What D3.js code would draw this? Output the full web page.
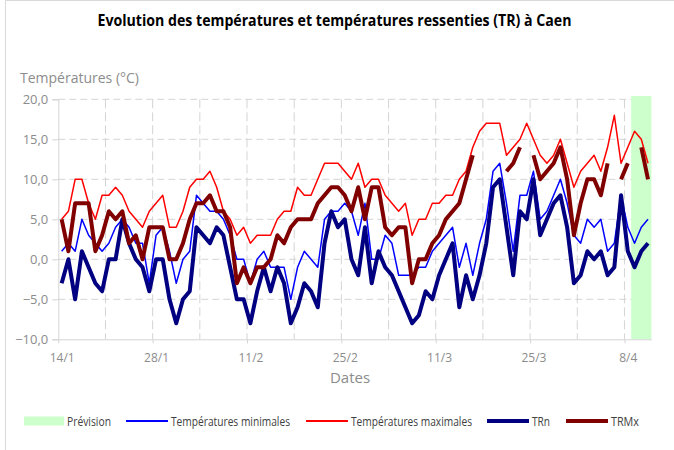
<!DOCTYPE html>
<html lang="fr">
<head>
  <meta charset="utf-8">
  <script src="https://cdn.jsdelivr.net/npm/d3@7"></script>
  <style>
    body{margin:0;background:#fff;}
    text{font-family:"Open Sans","Liberation Sans",sans-serif;}
  </style>
</head>
<body>
  <div id="chart"></div>
  <script type="text/javascript">
    // donnees journalieres du 14/1 au 11/4 (2013)
    var startDate=new Date(Date.UTC(2013,0,14));
    var nbDays=88;
    var forecastFrom=85; // 9/4 -> 11/4 = prevision

    var tMin=[1,2,1,5,3,2,1,2,4,5, 4,2,2,-3,3,4,1,-3,0,1, 8,7,6,6,5,3,0,0,-3,0,
              1,-1,-1,-1,-5,-1,1,0,-1,5, 6,6,7,6,3,7,0,0,3,2, -2,-2,-2,-1,-1,1,2,3,4,-1,
              2,-2,2,5,11,12,7,1,8,8, 11,5,6,8,10,7,3,2,5,4, 5,1,2,8,4,2,4,5];
    var tMax=[5,6,10,10,7,5,8,8,9,8, 6,5,4,6,7,8,4,4,6,9, 10,10,11,9,6,5,3,4,2,3,
              3,3,5,6,6,9,8,8,10,12, 12,12,11,10,12,9,10,10,8,7, 6,7,3,5,5,7,7,8,8,10,
              11,14,16,17,17,17,13,14,15,17, 15,13,12,13,15,12,9,11,12,13, 11,14,18,12,14,16,15,12];
    var trn=[-3,0,-5,1,-1,-3,-4,0,0,5, 2,0,-1,-4,0,0,-5,-8,-5,-4, 4,3,2,4,3,-1,-5,-5,-8,-4,
             -1,-4,-1,-3,-8,-6,-3,-4,-6,2, 6,4,5,0,-2,4,-3,1,-1,-2, -4,-6,-8,-7,-4,-5,-2,0,2,-6,
             -2,-5,-2,2,9,10,4,-2,6,5, 10,3,5,7,8,4,-3,-2,1,0, 1,-2,-1,8,1,-1,1,2];
    var trmx=[5,1,7,7,7,1,3,6,5,6, 2,3,0,4,4,4,0,0,2,5, 7,7,8,6,6,4,-3,-1,-3,-1,
              -1,0,3,2,4,5,5,5,7,8, 9,9,8,6,9,5,9,9,4,3, 4,4,-3,0,0,2,3,5,6,7,
              10,13,null,null,null,null,11,12,14,null, 13,10,11,12,14,10,3,7,10,10, 8,12,null,10,12,null,14,10];
    var yTicks=[-10,-5,0,5,10,15,20];

    var series=[
      {name:"Températures minimales",values:tMin,color:"#0000ff",width:1.5},
      {name:"Températures maximales",values:tMax,color:"#ff0000",width:1.5},
      {name:"TRn",values:trn,color:"#000080",width:4},
      {name:"TRMx",values:trmx,color:"#800000",width:4}
    ];

    var width=674, height=450;
    var gridColor="#d4d4d4", labelColor="#8c8c8c";

    var endDate=d3.utcDay.offset(startDate,nbDays);
    var days=d3.utcDays(startDate,endDate);

    var x=d3.scaleUtc().domain([startDate,endDate]).range([58.3,651.4]);
    var y=d3.scaleLinear().domain([-10,20]).range([339.3,99.3]);
    var dayW=x(d3.utcDay.offset(startDate,1))-x(startDate);
    function cx(d){return x(d)+dayW/2;}

    var svg=d3.select("#chart")
      .append("svg")
      .attr("width",width)
      .attr("height",height);

    // cadre
    svg.append("path")
      .attr("d","M5.5,"+height+"V0.5H"+width)
      .attr("fill","none")
      .attr("stroke","#d9d9d9");

    //Title
    svg.append("text")
      .attr("x",334.5)
      .attr("y",26)
      .attr("text-anchor","middle")
      .attr("textLength",474)
      .attr("lengthAdjust","spacingAndGlyphs")
      .style("font-size","16px")
      .style("font-weight","bold")
      .attr("fill","#000")
      .text("Evolution des températures et températures ressenties (TR) à Caen");

    svg.append("text")
      .attr("x",20)
      .attr("y",83)
      .attr("fill",labelColor)
      .style("font-size","14px")
      .text("Températures (°C)");

    // grilles
    svg.append("g")
      .selectAll("line")
      .data(yTicks.filter(function(d){return d>-10;}))
      .enter()
      .append("line")
      .attr("x1",x.range()[0]).attr("x2",x.range()[1])
      .attr("y1",function(d){return y(d);}).attr("y2",function(d){return y(d);})
      .attr("stroke",gridColor)
      .attr("stroke-dasharray","7,4");

    var weekDays=d3.utcDay.range(d3.utcDay.offset(startDate,7),endDate,7);
    svg.append("g")
      .selectAll("line")
      .data(weekDays)
      .enter()
      .append("line")
      .attr("x1",function(d){return x(d);}).attr("x2",function(d){return x(d);})
      .attr("y1",y(20)).attr("y2",y(-10))
      .attr("stroke",gridColor)
      .attr("stroke-dasharray","9,4");

    // zone de prevision
    svg.append("rect")
      .attr("x",x(days[forecastFrom]))
      .attr("y",96)
      .attr("width",x(endDate)-x(days[forecastFrom]))
      .attr("height",y(-10)-96)
      .attr("fill","#ccffcc");

    // axes
    var yAxis=d3.axisLeft(y)
      .tickValues(yTicks)
      .tickSize(6)
      .tickPadding(4)
      .tickFormat(function(d){return d3.format(".1f")(d).replace(".",",");});

    var gy=svg.append("g")
      .attr("transform","translate("+x.range()[0]+",0)")
      .call(yAxis);
    gy.select(".domain").attr("stroke",gridColor);
    gy.selectAll(".tick line").attr("stroke",gridColor);
    gy.selectAll(".tick text")
      .attr("fill",labelColor)
      .style("font-size","13px")
      .style("font-family","'Open Sans',sans-serif");

    var labelDays=d3.utcDay.range(startDate,endDate,14);
    var xAxis=d3.axisBottom(x)
      .tickValues(labelDays)
      .tickSize(4)
      .tickSizeOuter(0)
      .tickFormat(d3.utcFormat("%-d/%-m"));

    var gx=svg.append("g")
      .attr("transform","translate(0,"+y(-10)+")")
      .call(xAxis);
    gx.select(".domain").attr("stroke",gridColor);
    gx.selectAll(".tick line").attr("stroke",gridColor);
    gx.selectAll(".tick text")
      .attr("fill",labelColor)
      .attr("x",dayW/2)
      .attr("dy","0.71em")
      .attr("y",14)
      .style("font-size","12px")
      .style("font-family","'Open Sans',sans-serif");

    svg.append("text")
      .attr("x",350)
      .attr("y",383)
      .attr("text-anchor","middle")
      .attr("fill",labelColor)
      .style("font-size","15px")
      .text("Dates");

    // courbes
    var line=d3.line()
      .defined(function(d){return d.v!=null;})
      .x(function(d){return cx(d.date);})
      .y(function(d){return y(d.v);});

    svg.append("g")
      .selectAll("path")
      .data(series)
      .enter()
      .append("path")
      .attr("fill","none")
      .attr("stroke",function(d){return d.color;})
      .attr("stroke-width",function(d){return d.width;})
      .attr("stroke-linejoin","round")
      .attr("d",function(s){
        return line(days.map(function(dt,i){return {date:dt,v:s.values[i]};}));
      });

    // legende
    var legend=svg.append("g").attr("transform","translate(0,421)");
    legend.append("rect")
      .attr("x",24).attr("y",-4.5)
      .attr("width",40).attr("height",9)
      .attr("fill","#ccffcc");
    legend.append("text")
      .attr("x",67).attr("y",4.5)
      .attr("fill","#404040")
      .attr("textLength",44)
      .attr("lengthAdjust","spacingAndGlyphs")
      .style("font-size","12px")
      .text("Prévision");

    var legendX=[126,306,487,566];
    var legendLen=[119,121,18,28];
    legend.selectAll("g.item")
      .data(series)
      .enter()
      .append("g")
      .attr("class","item")
      .attr("transform",function(d,i){return "translate("+legendX[i]+",0)";})
      .each(function(d,i){
        var g=d3.select(this);
        g.append("line")
          .attr("x1",0).attr("x2",42)
          .attr("stroke",d.color)
          .attr("stroke-width",d.width==4?4:2);
        g.append("text")
          .attr("x",45).attr("y",4.5)
          .attr("fill","#404040")
          .attr("textLength",legendLen[i])
          .attr("lengthAdjust","spacingAndGlyphs")
          .style("font-size","12px")
          .text(d.name);
      });
  </script>
</body>
</html>
